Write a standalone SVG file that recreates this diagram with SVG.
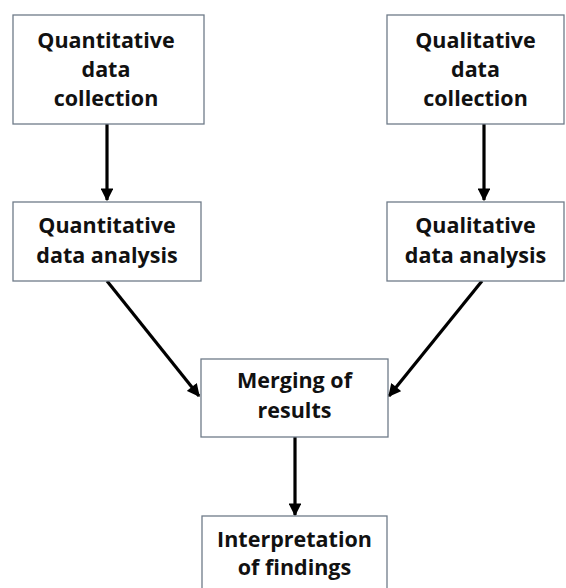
<svg xmlns="http://www.w3.org/2000/svg" width="566" height="588" viewBox="0 0 566 588">
<defs>
<style>
.box{fill:#fff;stroke:#6f7b89;stroke-width:1.3}
.t{font-family:"Open Sans","DejaVu Sans",sans-serif;font-weight:bold;font-size:21.5px;fill:#111;text-anchor:middle}
.c{stroke:#000;stroke-width:3.2;fill:none}
</style>
<marker id="ah" viewBox="0 0 10 10" refX="9" refY="5" markerWidth="4.2" markerHeight="4" markerUnits="strokeWidth" orient="auto">
<path d="M0,0 L10,5 L0,10 z" fill="#000"/>
</marker>
</defs>
<rect width="566" height="588" fill="#fff"/>
<g id="connectors">
<line class="c" x1="107" y1="124" x2="107" y2="200" marker-end="url(#ah)"/>
<line class="c" x1="484" y1="124" x2="484" y2="200" marker-end="url(#ah)"/>
<line class="c" x1="107" y1="281" x2="199" y2="396" marker-end="url(#ah)"/>
<line class="c" x1="482" y1="281" x2="389" y2="396" marker-end="url(#ah)"/>
<line class="c" x1="295" y1="437" x2="295" y2="515" marker-end="url(#ah)"/>
</g>
<g id="n1">
<rect class="box" x="13" y="15" width="191" height="109"/>
<text class="t" x="106" y="48">Quantitative</text>
<text class="t" x="106" y="77">data</text>
<text class="t" x="106" y="106">collection</text>
</g>
<g id="n2">
<rect class="box" x="387" y="15" width="177" height="109"/>
<text class="t" x="475.5" y="48">Qualitative</text>
<text class="t" x="475.5" y="77">data</text>
<text class="t" x="475.5" y="106">collection</text>
</g>
<g id="n3">
<rect class="box" x="13" y="202" width="188" height="79"/>
<text class="t" x="107" y="233">Quantitative</text>
<text class="t" x="107" y="263">data analysis</text>
</g>
<g id="n4">
<rect class="box" x="387" y="202" width="177" height="79"/>
<text class="t" x="475.5" y="233">Qualitative</text>
<text class="t" x="475.5" y="263">data analysis</text>
</g>
<g id="n5">
<rect class="box" x="201" y="359" width="187" height="78"/>
<text class="t" x="294.5" y="388">Merging of</text>
<text class="t" x="294.5" y="418">results</text>
</g>
<g id="n6">
<rect class="box" x="202" y="516" width="185" height="80"/>
<text class="t" x="294.5" y="547">Interpretation</text>
<text class="t" x="294.5" y="575">of findings</text>
</g>
</svg>
